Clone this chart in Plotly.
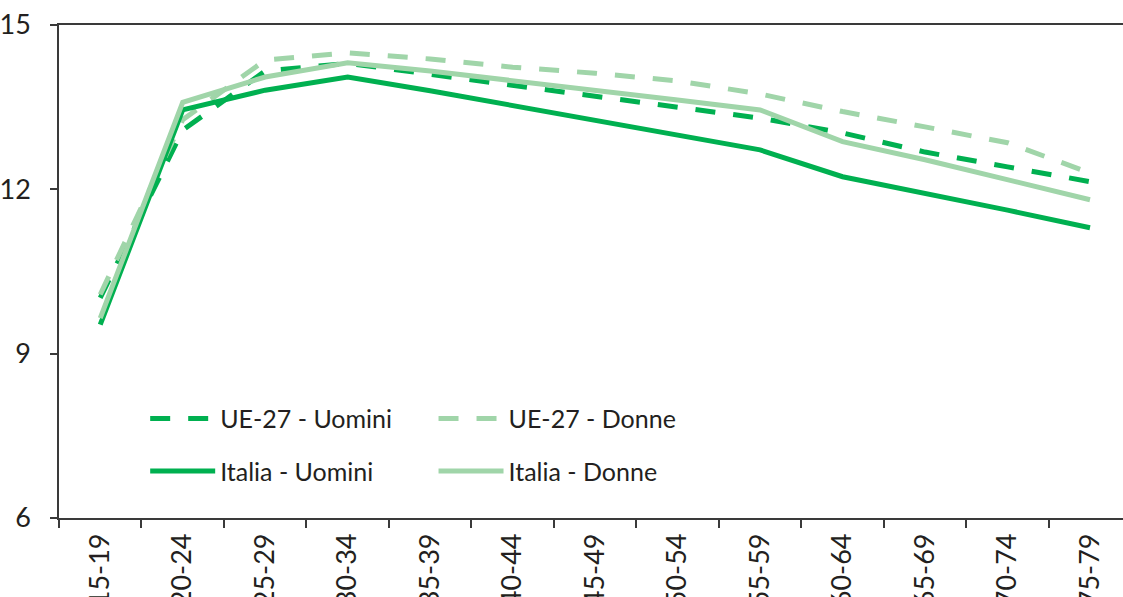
import plotly.graph_objects as go

categories = ["15-19", "20-24", "25-29", "30-34", "35-39", "40-44", "45-49",
              "50-54", "55-59", "60-64", "65-69", "70-74", "75-79"]

ue_uomini = [10.02, 13.08, 14.16, 14.30, 14.10, 13.90, 13.70, 13.50, 13.30, 13.03, 12.68, 12.41, 12.14]
ue_donne = [10.08, 13.27, 14.36, 14.49, 14.38, 14.23, 14.12, 13.98, 13.74, 13.42, 13.14, 12.85, 12.30]
it_uomini = [9.53, 13.45, 13.81, 14.05, 13.80, 13.53, 13.26, 12.99, 12.72, 12.23, 11.93, 11.62, 11.30]
it_donne = [9.65, 13.59, 14.05, 14.31, 14.16, 13.99, 13.80, 13.63, 13.45, 12.87, 12.54, 12.17, 11.81]

y_ticks = [6, 9, 12, 15]

DARK = "#00B050"
LIGHT = "#A0D5A9"
FONT = "Lato"
TEXT = "#231F20"

series = [
    ("UE-27 - Uomini", ue_uomini, DARK, "20px,18px", "legend"),
    ("UE-27 - Donne", ue_donne, LIGHT, "20px,18px", "legend2"),
    ("Italia - Uomini", it_uomini, DARK, "solid", "legend"),
    ("Italia - Donne", it_donne, LIGHT, "solid", "legend2"),
]

fig = go.Figure()
for name, vals, color, dash, leg in series:
    fig.add_trace(go.Scatter(
        x=categories, y=vals, name=name, mode="lines",
        line=dict(color=color, width=5, dash=dash),
        legend=leg, legendgroup=name,
    ))

legend_common = dict(
    font=dict(family=FONT, size=25, color=TEXT),
    bgcolor="rgba(0,0,0,0)",
    tracegroupgap=17,
    itemwidth=65,
    orientation="v",
    yanchor="top",
    xanchor="left",
)

fig.update_layout(
    width=1123, height=597,
    margin=dict(l=59, r=0, t=25, b=79, autoexpand=False),
    plot_bgcolor="white", paper_bgcolor="white",
    font=dict(family=FONT, size=25, color=TEXT),
    showlegend=True,
    legend=dict(x=0.081, y=0.248, **legend_common),
    legend2=dict(x=0.352, y=0.248, **legend_common),
    xaxis=dict(
        type="category", range=[-0.5, 12.4], automargin=False,
        showline=True, linecolor="#3a3a3a", linewidth=1.5, mirror=True,
        ticks="outside", ticklen=8, tickcolor="#3a3a3a", tickwidth=1.5,
        tickson="boundaries", tickangle=-90,
        showgrid=False, zeroline=False, ticklabelstandoff=3,
        tickfont=dict(family=FONT, size=27, color=TEXT),
    ),
    yaxis=dict(
        range=[6, 15], tickvals=y_ticks, automargin=False,
        showline=True, linecolor="#3a3a3a", linewidth=1.5,
        ticks="outside", ticklen=7, tickcolor="#3a3a3a", tickwidth=1.5,
        showgrid=False, zeroline=False, ticklabelstandoff=14,
        tickfont=dict(family=FONT, size=27, color=TEXT),
    ),
)

fig.write_html(
    "out.html",
    config={"displayModeBar": False},
    post_script="document.body.style.margin='0';document.body.style.overflow='hidden';",
)
